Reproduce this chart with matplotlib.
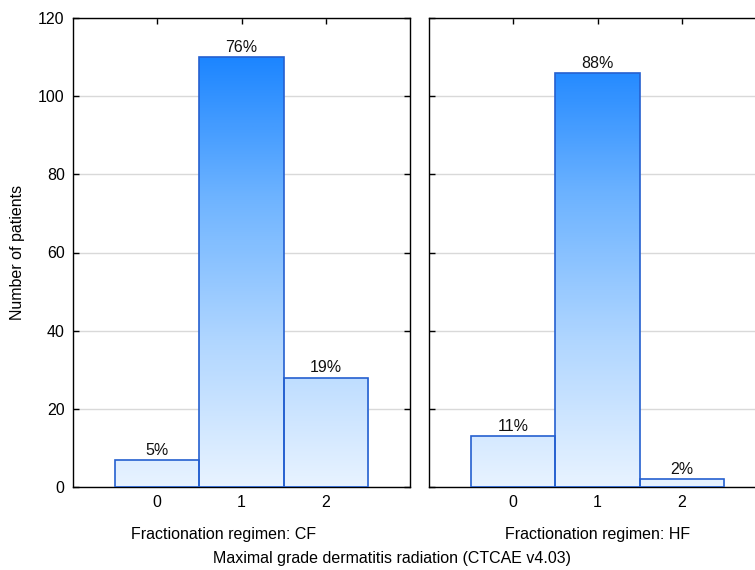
import matplotlib
matplotlib.use("Agg")
import matplotlib.pyplot as plt
import numpy as np
from matplotlib.colors import LinearSegmentedColormap, Normalize

plt.rcParams['font.family'] = ['Liberation Sans', 'DejaVu Sans']

grades = [0, 1, 2]
grade_labels = ["0", "1", "2"]
cf_counts = [7, 110, 28]
hf_counts = [13, 106, 2]
cf_pct = ["5%", "76%", "19%"]
hf_pct = ["11%", "88%", "2%"]
panel_titles = ["Fractionation regimen: CF", "Fractionation regimen: HF"]
yticks = [0, 20, 40, 60, 80, 100, 120]

cmap = LinearSegmentedColormap.from_list("g", ["#E8F3FF", "#B0D6FF", "#6DB3FF", "#1883FF"])
norm = Normalize(vmin=0, vmax=112)

FS = 11.5
fig = plt.figure(figsize=(7.55, 5.70), dpi=100)
W, H = 755, 570
def rect(l, r, t, b):
    return [l / W, 1 - b / H, (r - l) / W, (b - t) / H]

ax1 = fig.add_axes(rect(73, 410, 18, 487))
ax2 = fig.add_axes(rect(429, 766, 18, 487))

for ax, counts, pcts, show_y in [(ax1, cf_counts, cf_pct, True), (ax2, hf_counts, hf_pct, False)]:
    ax.set_xlim(-1, 3)
    ax.set_ylim(0, 120)
    ax.set_yticks(yticks)
    ax.set_xticks(grades)
    ax.set_xticklabels(grade_labels)
    ax.yaxis.grid(True, color="#d9d9d9", linewidth=1.0)
    ax.set_axisbelow(True)
    bars = ax.bar(grades, counts, width=1.0, facecolor="none", edgecolor="#2560d0", linewidth=1.2, zorder=3)
    for b, h in zip(bars, counts):
        x0 = b.get_x()
        x1 = x0 + b.get_width()
        grad = np.linspace(0, h, 256).reshape(-1, 1)
        im = ax.imshow(grad, extent=[x0, x1, 0, h], origin="lower", cmap=cmap, norm=norm,
                       aspect="auto", zorder=2, interpolation="bilinear")
        im.set_clip_path(b)
    for g, h, p in zip(grades, counts, pcts):
        ax.annotate(p, (g, h), xytext=(0, 1.5), textcoords="offset points",
                    ha="center", va="bottom", fontsize=FS, color="#111111")
    ax.set_xlim(-1, 3)
    ax.set_ylim(0, 120)
    ax.tick_params(direction="in", length=4, width=1, top=True, right=True, labelsize=FS, pad=6)
    if not show_y:
        ax.tick_params(labelleft=False)
    for s in ax.spines.values():
        s.set_linewidth(1.0)
        s.set_color("black")

ax1.set_ylabel("Number of patients", fontsize=FS)
ax1.yaxis.set_label_coords((25 - 73) / 337, 0.5)

fig.text(224 / W, 1 - 534 / H, panel_titles[0], ha="center", va="center", fontsize=FS)
fig.text(598 / W, 1 - 534 / H, panel_titles[1], ha="center", va="center", fontsize=FS)
fig.text(392 / W, 1 - 558 / H, "Maximal grade dermatitis radiation (CTCAE v4.03)", ha="center", va="center", fontsize=FS)

fig.savefig("out.png", dpi=100)
